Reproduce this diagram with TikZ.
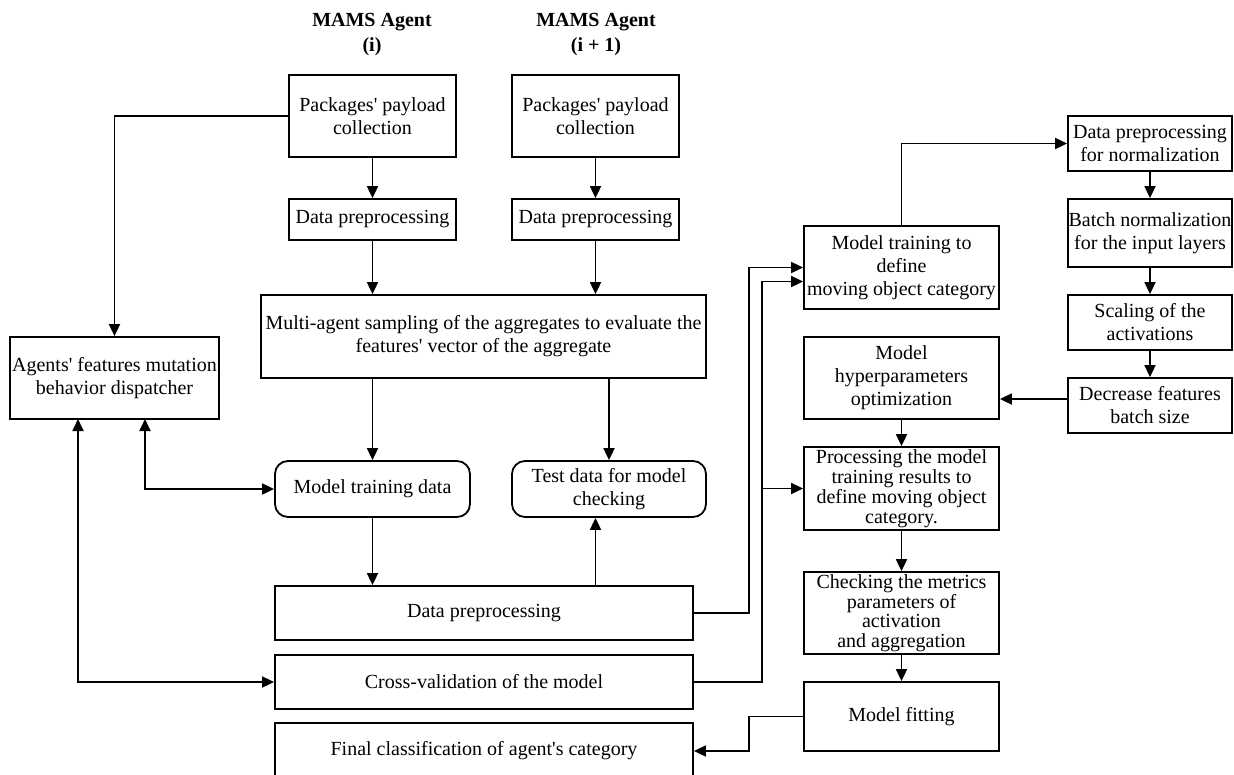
\documentclass[tikz,border=0pt]{standalone}
\usepackage{fontspec}
\setmainfont{Liberation Serif}
\usepackage{tikz}
\usetikzlibrary{arrows.meta, positioning, calc}
\newcommand{\ap}{\textquotesingle}

\begin{document}
\begin{tikzpicture}[x=1pt,y=-1pt,line width=1.8pt,
  >={Triangle[length=12pt,width=11pt]},
  font=\fontsize{20}{23}\selectfont,
  box/.style={draw,align=center,inner sep=1pt},
  term/.style={box,rounded corners=13pt},
  title/.style={align=center,font=\fontsize{20}{25}\selectfont\bfseries}]
  \useasboundingbox (0,0) rectangle (1234,774);
%--------------------------------------------------------------------------------
  \node[title] (ag1) at (372,35) {MAMS Agent\\(i)};
  \node[title] (ag2) at (596,35) {MAMS Agent\\(i + 1)};
  \node[box,minimum width=167pt,minimum height=82pt] (pay1) at (372.5,116) {Packages\ap{} payload\\collection};
  \node[box,minimum width=167pt,minimum height=82pt] (pay2) at (595.5,116) {Packages\ap{} payload\\collection};
  \node[box,minimum width=167pt,minimum height=41pt] (pre1) at (372.5,219.5) {Data preprocessing};
  \node[box,minimum width=167pt,minimum height=41pt] (pre2) at (595.5,219.5) {Data preprocessing};
  \node[box,minimum width=445pt,minimum height=83pt] (multi) at (483.5,336.5) {Multi-agent sampling of the aggregates to evaluate the\\features\ap{} vector of the aggregate};
  \node[box,minimum width=209pt,minimum height=82pt] (disp) at (114.5,378) {Agents\ap{} features mutation\\behavior dispatcher};
  \node[term,minimum width=195pt,minimum height=56pt] (train) at (372.5,489) {Model training data};
  \node[term,minimum width=194pt,minimum height=56pt] (test) at (609,489) {Test data for model\\checking};
  \node[box,minimum width=418pt,minimum height=54pt] (prep) at (484,613) {Data preprocessing};
  \node[box,minimum width=418pt,minimum height=54pt] (cross) at (484,682) {Cross-validation of the model};
  \node[box,minimum width=418pt,minimum height=56pt] (final) at (484,751) {Final classification of agent\ap{}s category};
%--------------------------------------------------------------------------------
  \node[box,minimum width=195pt,minimum height=83pt] (mtrain) at (901.5,267.5) {Model training to\\define\\moving object category};
  \node[box,minimum width=195pt,minimum height=82pt] (hyper) at (901.5,378) {Model\\hyperparameters\\optimization};
  \node[box,minimum width=195pt,minimum height=83pt,font=\fontsize{20}{20}\selectfont] (proc) at (901.5,488.5) {Processing the model\\training results to\\define moving object\\category.};
  \node[box,minimum width=195pt,minimum height=82pt,font=\fontsize{20}{19.5}\selectfont] (check) at (901.5,613) {Checking the metrics\\parameters of\\activation\\and aggregation};
  \node[box,minimum width=195pt,minimum height=69pt] (fit) at (901.5,716.5) {Model fitting};
  \node[box,minimum width=164pt,minimum height=55pt] (norm) at (1150,143.5) {Data preprocessing\\for normalization};
  \node[box,minimum width=164pt,minimum height=68pt] (batch) at (1150,233) {Batch normalization\\for the input layers};
  \node[box,minimum width=164pt,minimum height=55pt] (scal) at (1150,322.5) {Scaling of the\\activations};
  \node[box,minimum width=164pt,minimum height=55pt] (decr) at (1150,405.5) {Decrease features\\batch size};
%--------------------------------------------------------------------------------
  \coordinate (dA) at (145,419);
  \coordinate (dB) at (78,419);
  \coordinate (j1) at (749,0);
  \coordinate (j2) at (762,0);
  \draw[->] (pay1) -- (pre1);
  \draw[->] (pre1) -- (pre1 |- multi.north);
  \draw[->] (pay2) -- (pre2);
  \draw[->] (pre2) -- (pre2 |- multi.north);
  \draw[->] (pay1.west) -| (disp.north);
  \draw[->] (train |- multi.south) -- (train);
  \draw[->] (test |- multi.south) -- (test);
  \draw[->] (train) -- (train |- prep.north);
  \draw[->] (prep.north -| pre2) -- (test.south -| pre2);
  \draw[<->] (dA) |- (train.west);
  \draw[<->] (dB) |- (cross.west);
  \draw[->] (prep.east) -- (prep.east -| j1) |- (mtrain.west);
  \draw[->] (cross.east) -- (cross.east -| j2) |- ($(mtrain.west)+(0,14)$);
  \draw[->] (j2 |- proc.west) -- (proc.west);
  \draw[->] (mtrain.north) |- (norm.west);
  \draw[->] (norm) -- (batch);
  \draw[->] (batch) -- (scal);
  \draw[->] (scal) -- (decr);
  \draw[->] ($(decr.west)+(0,-6.5)$) coordinate (dd) -- (dd -| hyper.east);
  \draw[->] (hyper) -- (proc);
  \draw[->] (proc) -- (check);
  \draw[->] (check) -- (fit);
  \draw[->] (fit.west) -- (fit.west -| j1) |- (final.east);
\end{tikzpicture}
\end{document}
